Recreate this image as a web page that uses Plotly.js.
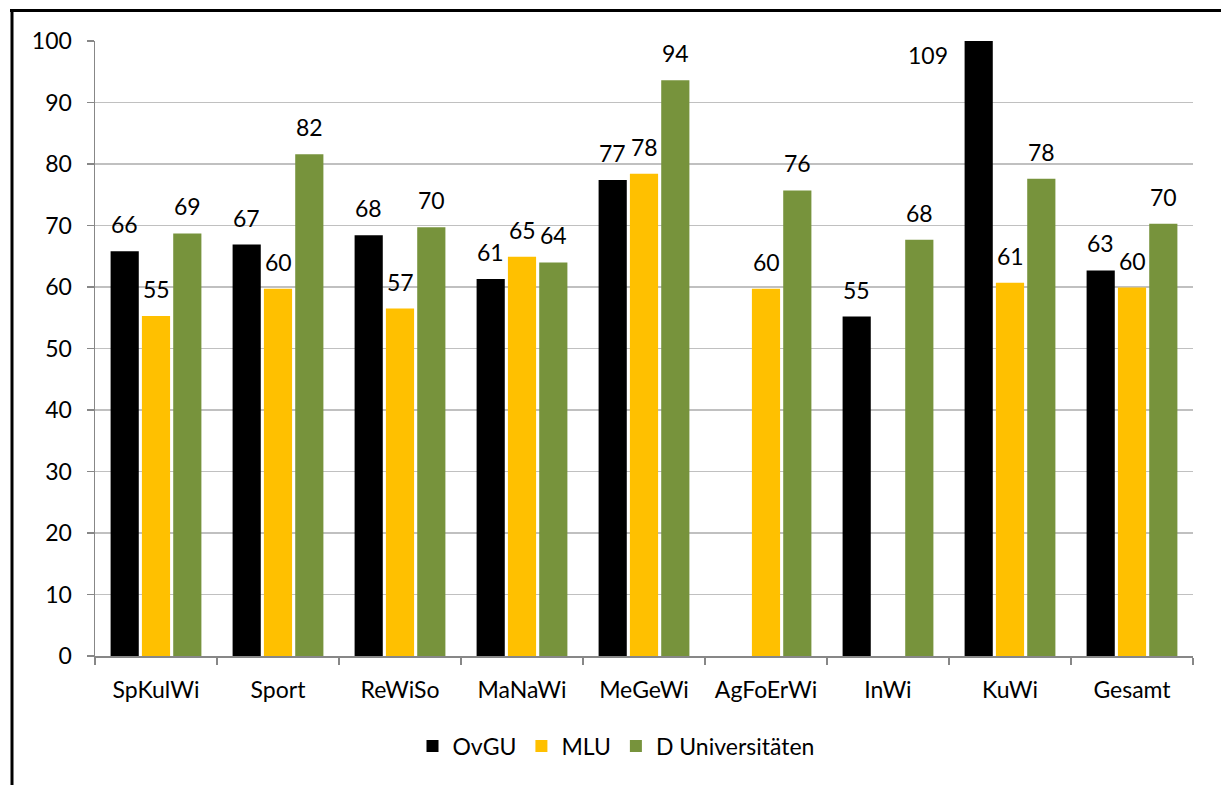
<!DOCTYPE html>
<html>
<head>
<meta charset="utf-8">
<script src="https://cdn.plot.ly/plotly-3.0.1.min.js"></script>
<style>
  html, body { margin: 0; padding: 0; background: #ffffff; }
  #chart { width: 1221px; height: 785px; }
</style>
</head>
<body>
<div id="chart"></div>
<script>
// Fachbereiche (categories)
const categories = ['SpKulWi', 'Sport', 'ReWiSo', 'MaNaWi', 'MeGeWi', 'AgFoErWi', 'InWi', 'KuWi', 'Gesamt'];

// Series values per category (null = no value)
const ovgu = [65.8, 66.9, 68.4, 61.3, 77.4, null, 55.2, 109, 62.7];
const mlu = [55.3, 59.7, 56.5, 64.9, 78.4, 59.7, null, 60.7, 59.9];
const dUni = [68.7, 81.6, 69.7, 64.0, 93.6, 75.7, 67.7, 77.6, 70.3];

const seriesNames = ['OvGU', 'MLU', 'D Universitäten'];
const seriesColors = ['#000000', '#FFC000', '#77933C'];

const yTicks = [0, 10, 20, 30, 40, 50, 60, 70, 80, 90, 100];
const yMax = 100;

const W = 1221, H = 785;
const M = { l: 95, r: 28, t: 41, b: 129 };
const plotW = W - M.l - M.r, plotH = H - M.t - M.b;
const px2x = p => (p - M.l) / plotW;
const px2y = p => (H - M.b - p) / plotH;

const BARGAP = 0.23, BARGROUPGAP = 0.1;
const catW = plotW / categories.length;
const slotW = catW * (1 - BARGAP) / 3;

const FONT = 'Lato, "Open Sans", "Liberation Sans", sans-serif';
const FS = 23;

const allSeries = [ovgu, mlu, dUni];

const traces = allSeries.map((vals, i) => ({
  type: 'bar',
  name: seriesNames[i],
  x: categories,
  y: vals,
  marker: { color: seriesColors[i] },
  hoverinfo: 'x+y+name'
}));

// Value labels above each bar; values beyond the axis maximum sit beside the clipped bar
const annotations = [];
allSeries.forEach((vals, i) => {
  vals.forEach((v, idx) => {
    if (v === null) return;
    const clipped = v > yMax;
    annotations.push({
      x: categories[idx], y: clipped ? yMax : v, xref: 'x', yref: 'y',
      text: String(Math.round(v)), showarrow: false,
      xanchor: 'center',
      yanchor: clipped ? 'top' : 'bottom',
      xshift: (i - 1) * slotW + (clipped ? -51 : 0),
      yshift: clipped ? 2 : 11,
      font: { family: FONT, size: FS, color: '#000000' }
    });
  });
});

// Outer frame lines (left and top)
const shapes = [
  { type: 'line', xref: 'paper', yref: 'paper', x0: px2x(12), x1: px2x(12), y0: px2y(9), y1: px2y(790), line: { color: '#000000', width: 3 } },
  { type: 'line', xref: 'paper', yref: 'paper', x0: px2x(10), x1: px2x(1230), y0: px2y(10.5), y1: px2y(10.5), line: { color: '#000000', width: 3 } }
];

const layout = {
  width: W, height: H,
  margin: M,
  paper_bgcolor: '#ffffff',
  plot_bgcolor: '#ffffff',
  font: { family: FONT, size: FS, color: '#000000' },
  barmode: 'group',
  bargap: BARGAP,
  bargroupgap: BARGROUPGAP,
  showlegend: true,
  legend: {
    orientation: 'h', x: px2x(616), xanchor: 'center', y: px2y(746), yanchor: 'middle',
    font: { family: FONT, size: FS, color: '#000000' },
    itemwidth: 30, traceorder: 'normal'
  },
  xaxis: {
    type: 'category',
    tickson: 'boundaries',
    ticks: 'outside', ticklen: 7, tickwidth: 1.5, tickcolor: '#878787',
    showline: true, linecolor: '#878787', linewidth: 1.5,
    showgrid: false,
    ticklabelstandoff: 13,
    tickfont: { family: FONT, size: FS, color: '#000000' }
  },
  yaxis: {
    range: [0, yMax],
    tickvals: yTicks,
    ticktext: yTicks.map(String),
    ticks: 'outside', ticklen: 7, tickwidth: 1.5, tickcolor: '#878787',
    showline: true, linecolor: '#878787', linewidth: 1.5,
    showgrid: true, gridcolor: '#c0c0c0', gridwidth: 1.5,
    zeroline: false,
    ticklabelstandoff: 10,
    tickfont: { family: FONT, size: FS, color: '#000000' }
  },
  annotations: annotations,
  shapes: shapes
};

Plotly.newPlot('chart', traces, layout, { displayModeBar: false, staticPlot: true });
</script>
</body>
</html>
